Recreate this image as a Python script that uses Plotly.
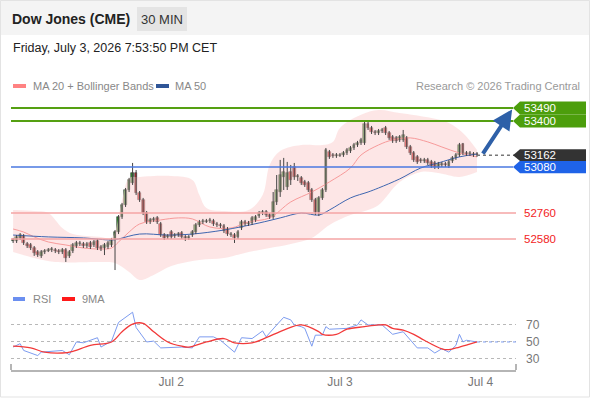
import plotly.graph_objects as go

# ---- candles (30 min bars, index 0 = first bar shown) ----
bar_open = [52566, 52566, 52587, 52601, 52545, 52538, 52517, 52489, 52462, 52489,
            52496, 52503, 52503, 52496, 52489, 52503, 52462, 52496, 52531, 52545,
            52545, 52531, 52552, 52538, 52566, 52524, 52517, 52524, 52538, 52573,
            52628, 52733, 52816, 52920, 52969, 53038, 52899, 52851, 52760, 52698,
            52712, 52726, 52684, 52607, 52594, 52628, 52601, 52607, 52621, 52594,
            52587, 52607, 52628, 52677, 52698, 52698, 52705, 52705, 52684, 52677,
            52670, 52649, 52607, 52607, 52594, 52656, 52698, 52684, 52691, 52712,
            52739, 52760, 52767, 52746, 52733, 52837, 52906, 53011, 52941, 53045,
            53080, 53011, 53004, 52976, 52969, 52920, 52851, 52767, 52865, 52920,
            53184, 53163, 53156, 53156, 53163, 53177, 53191, 53212, 53233, 53247,
            53247, 53379, 53351, 53323, 53316, 53330, 53351, 53316, 53289, 53282,
            53268, 53268, 53282, 53219, 53177, 53150, 53129, 53122, 53129, 53115,
            53108, 53080, 53094, 53101, 53087, 53122, 53143, 53163, 53240, 53177,
            53170, 53170, 53170]
bar_high = [52587, 52607, 52621, 52614, 52559, 52552, 52531, 52503, 52503, 52510,
            52517, 52524, 52517, 52510, 52517, 52517, 52503, 52552, 52566, 52566,
            52559, 52559, 52566, 52573, 52580, 52538, 52552, 52566, 52587, 52642,
            52746, 52830, 52934, 53004, 53108, 53059, 52913, 52865, 52774, 52726,
            52733, 52739, 52698, 52621, 52614, 52642, 52621, 52628, 52635, 52607,
            52607, 52642, 52691, 52712, 52719, 52719, 52726, 52719, 52698, 52691,
            52684, 52663, 52628, 52621, 52642, 52712, 52712, 52705, 52739, 52746,
            52774, 52781, 52781, 52760, 52906, 53024, 53129, 53143, 53115, 53094,
            53108, 53031, 53017, 52990, 52983, 52934, 52865, 52878, 52934, 53212,
            53198, 53177, 53177, 53177, 53191, 53212, 53226, 53247, 53261, 53282,
            53393, 53393, 53365, 53337, 53344, 53351, 53365, 53330, 53302, 53295,
            53302, 53337, 53295, 53233, 53191, 53163, 53143, 53143, 53143, 53129,
            53122, 53115, 53115, 53115, 53129, 53156, 53177, 53247, 53247, 53191,
            53191, 53184, 53184]
bar_low = [52552, 52552, 52573, 52538, 52517, 52503, 52462, 52455, 52448, 52475,
           52489, 52489, 52482, 52475, 52475, 52420, 52448, 52482, 52517, 52531,
           52517, 52517, 52510, 52524, 52503, 52496, 52468, 52510, 52524, 52364,
           52614, 52719, 52802, 52906, 52955, 52885, 52837, 52746, 52684, 52684,
           52698, 52684, 52594, 52573, 52580, 52580, 52587, 52594, 52580, 52566,
           52573, 52594, 52614, 52663, 52684, 52691, 52691, 52670, 52663, 52656,
           52621, 52601, 52594, 52552, 52580, 52642, 52670, 52670, 52677, 52698,
           52726, 52746, 52733, 52719, 52719, 52816, 52872, 52920, 52920, 52955,
           52990, 52983, 52955, 52941, 52906, 52837, 52746, 52739, 52851, 52906,
           53136, 53143, 53143, 53150, 53150, 53163, 53177, 53198, 53219, 53233,
           53233, 53337, 53309, 53302, 53302, 53316, 53302, 53268, 53247, 53247,
           53254, 53254, 53205, 53163, 53115, 53101, 53108, 53108, 53094, 53073,
           53066, 53066, 53080, 53080, 53073, 53108, 53129, 53150, 53163, 53156,
           53156, 53150, 53150]
bar_close = [52573, 52594, 52607, 52552, 52531, 52517, 52482, 52468, 52489, 52496,
             52503, 52510, 52496, 52489, 52503, 52448, 52489, 52538, 52552, 52552,
             52531, 52545, 52524, 52559, 52517, 52510, 52538, 52552, 52573, 52628,
             52733, 52816, 52920, 52990, 53038, 52899, 52851, 52760, 52698, 52712,
             52719, 52698, 52607, 52587, 52601, 52594, 52607, 52614, 52594, 52587,
             52594, 52628, 52677, 52698, 52705, 52705, 52712, 52684, 52677, 52670,
             52635, 52614, 52614, 52587, 52628, 52698, 52684, 52691, 52726, 52733,
             52760, 52767, 52746, 52733, 52837, 52920, 53024, 53045, 53038, 52990,
             53011, 53017, 52969, 52955, 52920, 52851, 52767, 52865, 52920, 53198,
             53150, 53156, 53163, 53163, 53177, 53198, 53212, 53233, 53247, 53268,
             53379, 53351, 53323, 53316, 53330, 53337, 53316, 53282, 53261, 53261,
             53289, 53302, 53219, 53177, 53129, 53115, 53122, 53129, 53108, 53087,
             53080, 53101, 53101, 53094, 53115, 53143, 53163, 53233, 53177, 53170,
             53177, 53163, 53162]

# ---- moving averages / bollinger (sampled bars) ----
ma20_idx = [0, 3, 6, 10, 15, 20, 25, 28, 30, 33, 36, 42, 47, 51, 56, 62, 67, 73, 79, 85,
            90, 96, 99, 104, 108, 113, 118, 122, 127, 132]
ma20_val = [52649, 52628, 52594, 52559, 52538, 52517, 52510, 52517, 52559, 52628,
            52684, 52712, 52726, 52719, 52663, 52656, 52698, 52726, 52837, 52906,
            52976, 53073, 53163, 53233, 53268, 53282, 53254, 53219, 53177, 53150]
ma50_idx = [0, 10, 20, 28, 30, 36, 44, 51, 60, 70, 76, 82, 87, 90, 96, 101, 104, 110,
            116, 121, 127, 132]
ma50_val = [52607, 52594, 52587, 52573, 52580, 52614, 52607, 52614, 52642, 52691,
            52726, 52760, 52746, 52781, 52865, 52906, 52934, 52997, 53073, 53108,
            53150, 53170]
bb_idx = [0, 6, 10, 14, 17, 25, 28, 31, 33, 36, 45, 51, 53, 55, 60, 67, 71, 73, 76,
          82, 88, 91, 93, 99, 104, 110, 119, 124, 128, 132]
bb_upper = [52781, 52774, 52760, 52656, 52614, 52594, 52587, 52851, 53004, 53011,
            53017, 52990, 52885, 52795, 52774, 52781, 52885, 53094, 53191, 53233,
            53233, 53254, 53351, 53442, 53476, 53455, 53420, 53386, 53316, 53198]
bb_lo_idx = [0, 6, 12, 25, 29, 33, 36, 40, 45, 53, 60, 67, 73, 79, 85, 90, 96, 101,
             104, 110, 116, 121, 127, 132]
bb_lower = [52489, 52448, 52420, 52420, 52413, 52350, 52295, 52330, 52392, 52434,
            52448, 52489, 52517, 52545, 52587, 52677, 52746, 52781, 52816, 52976,
            53045, 53038, 53011, 53045]

# ---- RSI panel ----
rsi_idx = [0, 2, 3, 7, 8, 13, 14, 16, 18, 20, 24, 25, 28, 30, 32, 34, 35, 37, 38, 40,
           42, 48, 51, 53, 57, 59, 63, 65, 68, 71, 72, 75, 77, 79, 80, 82, 83, 85, 86,
           88, 89, 90, 95, 98, 99, 101, 105, 108, 111, 115, 118, 120, 122, 124, 126,
           127, 128, 129, 132]
rsi_val = [44, 48, 40, 34, 38, 39, 40, 35, 50, 49, 55, 44, 51, 73, 79, 85, 67, 55, 50, 51,
           43, 44, 43, 56, 56, 52, 38, 55, 54, 63, 56, 70, 79, 76, 70, 68, 66, 45, 58,
           58, 68, 65, 66, 70, 76, 70, 70, 59, 62, 43, 43, 37, 42, 38, 46,
           59, 50, 52, 50]
rsi_ma_idx = [0, 5, 9, 14, 17, 22, 28, 31, 34, 37, 40, 44, 48, 50, 55, 60, 63, 68, 72,
              77, 82, 87, 88, 92, 95, 100, 104, 106, 108, 111, 114, 117, 122, 124, 127, 132]
rsi_ma_val = [45, 43, 38, 37, 39, 46, 50, 62, 71, 72, 62, 50, 45, 44, 50, 54, 49, 49, 55,
              64, 70, 62, 59, 59, 65, 68, 70, 70, 66, 64, 59, 52, 42, 41, 44, 50]

levels_res = [53490, 53400]
level_piv = 53080
levels_sup = [52760, 52580]
last_price = 53162
target_price = 53480
tick_pos = [45, 93, 133]
tick_text = ["Jul 2", "Jul 3", "Jul 4"]

n = len(bar_close)
idx = list(range(n))
X_END = 143.1


def px(x):
    return (x - 11) / 505


def py(y):
    return (370 - y) / 275


FONT = "Liberation Sans, Arial, sans-serif"
fig = go.Figure()

fig.add_trace(go.Scatter(x=bb_idx, y=bb_upper, mode="lines", line=dict(width=0, shape="spline"),
                         hoverinfo="skip", showlegend=False))
fig.add_trace(go.Scatter(x=bb_lo_idx, y=bb_lower, mode="lines", line=dict(width=0, shape="spline"),
                         fill="tonexty", fillcolor="rgba(252,205,205,0.5)", hoverinfo="skip",
                         showlegend=False))
fig.add_trace(go.Scatter(x=ma20_idx, y=ma20_val, mode="lines",
                         line=dict(color="#f79a9a", width=1, shape="spline"), showlegend=False))
fig.add_trace(go.Scatter(x=ma50_idx, y=ma50_val, mode="lines",
                         line=dict(color="#3f66b0", width=1, shape="spline"), showlegend=False))

# wicks then bodies (bars give control over the body width)
wick_x, wick_y = [], []
for i in idx:
    wick_x += [i, i, None]
    wick_y += [bar_low[i], bar_high[i], None]
fig.add_trace(go.Scatter(x=wick_x, y=wick_y, mode="lines", line=dict(color="#444", width=1),
                         hoverinfo="skip", showlegend=False))
body_base = [min(o, c) for o, c in zip(bar_open, bar_close)]
body_h = [abs(c - o) for o, c in zip(bar_open, bar_close)]
body_col = ["#2a8a2a" if c > o else "#d91c1c" for o, c in zip(bar_open, bar_close)]
fig.add_trace(go.Bar(x=idx, y=body_h, base=body_base, width=0.78,
                     marker=dict(color=body_col, line=dict(color="#333", width=0.6)),
                     showlegend=False))

fig.add_trace(go.Scatter(x=rsi_idx, y=rsi_val, mode="lines", xaxis="x2", yaxis="y2",
                         line=dict(color="#7d9cf0", width=1), showlegend=False))
fig.add_trace(go.Scatter(x=rsi_ma_idx, y=rsi_ma_val, mode="lines", xaxis="x2", yaxis="y2",
                         line=dict(color="#f23a3a", width=1.3, shape="spline"), showlegend=False))

shapes = []
# header band and frame
shapes.append(dict(type="rect", xref="paper", yref="paper", x0=px(0), x1=px(590), y0=py(35), y1=py(0),
                   fillcolor="#f4f4f4", line_width=0, layer="below"))
shapes.append(dict(type="rect", xref="paper", yref="paper", x0=px(0.5), x1=px(589.5), y0=py(397), y1=py(0.5),
                   line=dict(color="#e3e3e3", width=1)))
shapes.append(dict(type="rect", xref="paper", yref="paper", x0=px(137), x1=px(187), y0=py(31), y1=py(7),
                   fillcolor="#e4e4e4", line_width=0))
# level lines
for lv in levels_res:
    shapes.append(dict(type="line", xref="paper", yref="y", x0=0, x1=px(513), y0=lv, y1=lv,
                       line=dict(color="#55a012", width=2)))
shapes.append(dict(type="line", xref="paper", yref="y", x0=0, x1=px(513), y0=level_piv, y1=level_piv,
                   line=dict(color="#4a78e0", width=1.5)))
for lv in levels_sup:
    shapes.append(dict(type="line", xref="paper", yref="y", x0=0, x1=1, y0=lv, y1=lv,
                       line=dict(color="#f5a5a5", width=1.5)))
shapes.append(dict(type="line", xref="x", yref="y", x0=n - 1, x1=X_END, y0=last_price, y1=last_price,
                   line=dict(color="#777", width=1.5, dash="dot")))
shapes.append(dict(type="line", xref="x2", yref="y2", x0=n - 1, x1=X_END, y0=rsi_val[-1], y1=rsi_val[-1],
                   line=dict(color="#7d9cf0", width=1, dash="dot")))
# end ticks of the time axis
for e in (0, 1):
    shapes.append(dict(type="line", xref="paper", yref="paper", x0=e, x1=e, y0=py(370), y1=py(364),
                       line=dict(color="#b5b5b5", width=2)))


def tag(price, h, color):
    tip, base, right = px(513), px(520), px(586)
    return dict(type="path", xref="paper", yref="y", fillcolor=color, line_width=0,
                path=f"M {tip},{price} L {base},{price + h} L {right},{price + h} "
                     f"L {right},{price - h} L {base},{price - h} Z")


shapes.append(tag(levels_res[0], 45, "#4c9e0c"))
shapes.append(tag(levels_res[1], 45, "#4c9e0c"))
shapes.append(tag(level_piv, 43, "#1f63e8"))
shapes.append(tag(last_price, 41, "#333333"))

# legend swatches
shapes.append(dict(type="rect", xref="paper", yref="paper", x0=px(13), x1=px(26), y0=py(88), y1=py(84),
                   fillcolor="#ff8282", line_width=0))
shapes.append(dict(type="rect", xref="paper", yref="paper", x0=px(156), x1=px(169), y0=py(88), y1=py(84),
                   fillcolor="#2f5597", line_width=0))
shapes.append(dict(type="rect", xref="paper", yref="paper", x0=px(13), x1=px(25), y0=py(301), y1=py(297),
                   fillcolor="#6b8ff0", line_width=0))
shapes.append(dict(type="rect", xref="paper", yref="paper", x0=px(62), x1=px(75), y0=py(301), y1=py(297),
                   fillcolor="#ff1a1a", line_width=0))

ann = []


def text(x, y, s, size, color, anchor="left", bold=False):
    ann.append(dict(xref="paper", yref="paper", x=px(x), y=py(y), text=f"<b>{s}</b>" if bold else s,
                    showarrow=False, xanchor=anchor, yanchor="middle",
                    font=dict(family=FONT, size=size, color=color)))


text(10, 19, "Dow Jones (CME)", 14, "#222", bold=True)
text(162, 19, "30 MIN", 13, "#333", anchor="center")
text(11, 48, "Friday, July 3, 2026 7:53:50 PM CET", 12.5, "#222")
text(31, 86, "MA 20 + Bollinger Bands", 11, "#888")
text(173, 86, "MA 50", 11, "#888")
text(582, 86, "Research © 2026 Trading Central", 11, "#999", anchor="right")
text(31, 299, "RSI", 11, "#888")
text(80, 299, "9MA", 11, "#888")

for lv in levels_res + [level_piv, last_price]:
    ann.append(dict(xref="paper", yref="y", x=px(522), y=lv, text=str(lv), showarrow=False,
                    xanchor="left", yanchor="middle", font=dict(family=FONT, size=11.5, color="white")))
for lv in levels_sup:
    ann.append(dict(xref="paper", yref="y", x=px(522), y=lv, text=str(lv), showarrow=False,
                    xanchor="left", yanchor="middle", font=dict(family=FONT, size=11.5, color="#f21d1d")))

# forecast arrow
ann.append(dict(xref="x", yref="y", axref="x", ayref="y", x=142, y=target_price, ax=n + 0.4,
                ay=last_price, text="", showarrow=True, arrowhead=2, arrowsize=1, arrowwidth=4,
                arrowcolor="#2e60a8"))

fig.update_layout(
    width=590, height=400,
    margin=dict(l=11, r=74, t=95, b=30),
    paper_bgcolor="white", plot_bgcolor="rgba(0,0,0,0)",
    showlegend=False, bargap=0,
    shapes=shapes, annotations=ann,
    font=dict(family=FONT),
    xaxis=dict(domain=[0, 1], range=[-0.6, X_END], anchor="y", showticklabels=False, showgrid=False,
               zeroline=False, showline=False, ticks=""),
    yaxis=dict(domain=[py(285), 1], range=[52260, 53580], showticklabels=False, showgrid=False,
               zeroline=False, showline=False),
    xaxis2=dict(domain=[0, 1], range=[-0.6, X_END], anchor="y2", matches="x", tickvals=tick_pos,
                ticktext=tick_text, showgrid=False, zeroline=False, showline=True,
                linecolor="#b5b5b5", linewidth=2, ticks="",
                tickfont=dict(family=FONT, size=12, color="#777")),
    yaxis2=dict(domain=[0, py(305)], range=[17, 93.5], side="right", tickvals=[30, 50, 70],
                showgrid=True, gridcolor="#b8b8b8", griddash="dot", gridwidth=1, zeroline=False,
                showline=False, ticks="", ticklabelstandoff=9,
                tickfont=dict(family=FONT, size=12, color="#777")),
)

fig.write_html("out.html", config={"displayModeBar": False},
               post_script="document.body.style.margin='0px';")
